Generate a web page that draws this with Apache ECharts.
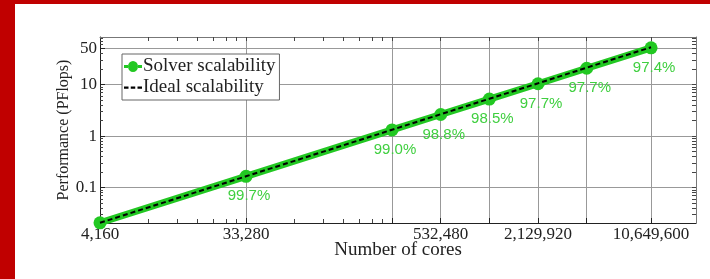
<!DOCTYPE html>
<html>
<head>
<meta charset="utf-8">
<script src="https://cdn.jsdelivr.net/npm/echarts@6/dist/echarts.min.js"></script>
<style>
  html, body { margin: 0; padding: 0; background: #c00000; }
  #chart { position: absolute; left: 15px; top: 4px; width: 695px; height: 275px; background: #fff; }
</style>
</head>
<body>
<div id="chart"></div>
<script>
// Data
const cores = [4160, 33280, 266240, 532480, 1064960, 2129920, 4259840, 10649600];
const solverPF = [0.0208, 0.166, 1.32, 2.63, 5.24, 10.4, 20.8, 51.8];
const idealPF = [0.0208, 0.166, 1.33, 2.66, 5.32, 10.6, 21.3, 53.2];
const efficiency = [null, "99.7%", "99.0%", "98.8%", "98.5%", "97.7%", "97.7%", "97.4%"];

// Tick positions
const xLabelValues = [4160, 33280, 532480, 2129920, 10649600];
const xGridValues = [33280, 266240, 532480, 1064960, 2129920, 4259840, 10649600];
const xMinorValues = [8320, 12480, 16640, 20800, 24960, 29120, 66560, 99840, 133120, 166400, 199680, 232960];
const yMajorValues = [0.1, 1, 10, 50];
const yMinorValues = [0.03, 0.04, 0.05, 0.06, 0.07, 0.08, 0.09,
  0.2, 0.3, 0.4, 0.5, 0.6, 0.7, 0.8, 0.9, 2, 3, 4, 5, 6, 7, 8, 9,
  20, 30, 40, 60, 70, 80];

const GREEN = "#22c822";
const serif = "Liberation Serif";

const chart = echarts.init(document.getElementById("chart"));

const xBase = { type: "log", logBase: 2, min: 4160, max: 20200000, gridIndex: 0 };
const yBase = { type: "log", logBase: 10, min: 0.0206, max: 84, gridIndex: 0 };

const option = {
  animation: false,
  grid: { left: 85, top: 33, right: 14, bottom: 56, containLabel: false },
  legend: {
    left: 107,
    top: 50,
    orient: "vertical",
    backgroundColor: "#fff",
    borderColor: "#666",
    borderWidth: 1,
    padding: [3, 4, 3, 2],
    itemGap: 2,
    itemWidth: 18,
    itemHeight: 11,
    textStyle: { fontFamily: serif, fontSize: 19, color: "#222", padding: [0, 0, 0, -4] },
    data: [
      {
        name: "Solver scalability",
        icon: "path://M0,4h4v3h-4z M14,4h4v3h-4z M4,5.5a5,5.5 0 1,1 10,0a5,5.5 0 1,1 -10,0z",
        itemStyle: { color: GREEN }
      },
      { name: "Ideal scalability", icon: "path://M0,5h4v2h-4z M6,5h4v2h-4z M12,5h4v2h-4z", itemStyle: { color: "#000" } }
    ]
  },
  xAxis: [
    Object.assign({}, xBase, {
      position: "bottom",
      name: "Number of cores",
      nameLocation: "middle",
      nameGap: 18,
      nameMoveOverlap: false,
      nameTextStyle: { fontFamily: serif, fontSize: 19, color: "#222" },
      axisLine: { lineStyle: { color: "#222", width: 1 } },
      axisTick: { show: true, inside: true, length: 5, customValues: xGridValues, lineStyle: { color: "#222" } },
      axisLabel: {
        customValues: xLabelValues,
        fontFamily: serif, fontSize: 17, color: "#222", margin: 3,
        formatter: (v) => Math.round(v).toLocaleString("en-US")
      },
      splitLine: { show: true, lineStyle: { color: "#999", width: 1 } }
    }),
    Object.assign({}, xBase, {
      position: "top",
      axisLine: { show: true, lineStyle: { color: "#777", width: 1 } },
      axisTick: { show: true, inside: true, length: 4, customValues: xGridValues.concat(xMinorValues), lineStyle: { color: "#444" } },
      axisLabel: { show: false },
      splitLine: { show: false }
    }),
    Object.assign({}, xBase, {
      position: "bottom",
      axisLine: { show: false },
      axisTick: { show: true, inside: true, length: 4, customValues: xMinorValues, lineStyle: { color: "#444" } },
      axisLabel: { show: false },
      splitLine: { show: false }
    })
  ],
  yAxis: [
    Object.assign({}, yBase, {
      position: "left",
      name: "Performance (PFlops)",
      nameLocation: "middle",
      nameGap: 28,
      nameMoveOverlap: false,
      nameTextStyle: { fontFamily: serif, fontSize: 16, color: "#222" },
      axisLine: { show: true, lineStyle: { color: "#222", width: 1 } },
      axisTick: { show: true, inside: true, length: 5, customValues: yMajorValues, lineStyle: { color: "#222" } },
      axisLabel: {
        customValues: yMajorValues,
        fontFamily: serif, fontSize: 17, color: "#222", margin: 3,
        formatter: (v) => String(+v.toPrecision(3))
      },
      splitLine: { show: true, lineStyle: { color: "#999", width: 1 } }
    }),
    Object.assign({}, yBase, {
      position: "right",
      axisLine: { show: true, lineStyle: { color: "#777", width: 1 } },
      axisTick: { show: true, inside: true, length: 4, customValues: yMajorValues.concat(yMinorValues), lineStyle: { color: "#444" } },
      axisLabel: { show: false },
      splitLine: { show: false }
    }),
    Object.assign({}, yBase, {
      position: "left",
      axisLine: { show: false },
      axisTick: { show: true, inside: true, length: 3, customValues: yMinorValues, lineStyle: { color: "#444" } },
      axisLabel: { show: false },
      splitLine: { show: false }
    })
  ],
  series: [
    {
      name: "Solver scalability",
      type: "line",
      xAxisIndex: 0,
      yAxisIndex: 0,
      data: cores.map((c, i) => [c, solverPF[i]]),
      symbol: "circle",
      symbolSize: 13,
      showAllSymbol: true,
      itemStyle: { color: GREEN },
      lineStyle: { color: GREEN, width: 7 },
      label: {
        show: true,
        position: "bottom",
        distance: 6,
        offset: [3, 0],
        fontFamily: "Liberation Sans",
        fontSize: 15,
        color: "#3fcf3f",
        formatter: (p) => efficiency[p.dataIndex] || ""
      },
      z: 2
    },
    {
      name: "Ideal scalability",
      type: "line",
      xAxisIndex: 0,
      yAxisIndex: 0,
      data: cores.map((c, i) => [c, idealPF[i]]),
      symbol: "none",
      itemStyle: { color: "#000" },
      lineStyle: { color: "#000", width: 2, type: [5, 3] },
      z: 3
    }
  ]
};

chart.setOption(option);
window.addEventListener("resize", () => chart.resize());
</script>
</body>
</html>
